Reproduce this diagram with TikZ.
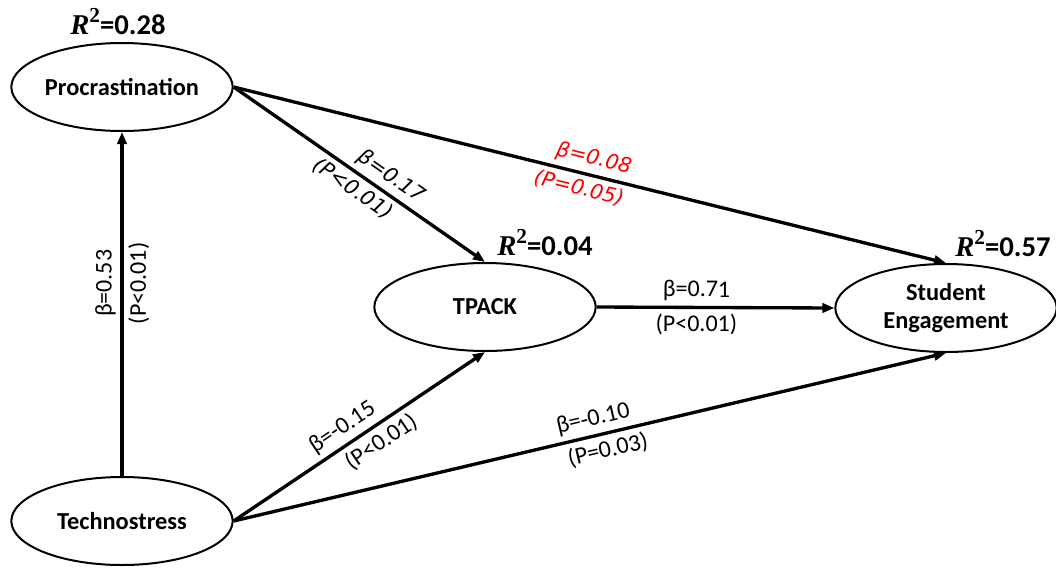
\documentclass[tikz,border=0pt]{standalone}
\usepackage{fontspec}
\setmainfont{Carlito}
\newfontfamily\verd{DejaVu Sans}
\newfontfamily\cambria{Liberation Serif}
\usetikzlibrary{positioning,arrows.meta,shapes.geometric}
\definecolor{rojo}{HTML}{FF0000}

\newcommand{\rsq}[1]{{\cambria\bfseries\itshape R}\raisebox{0.42em}{\fontsize{16}{16}\selectfont\cambria\bfseries 2}=#1}

\begin{document}
\begin{tikzpicture}[x=0.75pt, y=-0.75pt,
      lv/.style={draw, ellipse, line width=1.5pt, minimum width=166pt, minimum height=66pt,
                 inner sep=0pt, align=center, font=\fontsize{18.3}{21}\selectfont\bfseries},
      f/.style={-{Triangle[length=9pt,width=7pt]}, line width=2.5pt},
      cf/.style={font=\fontsize{18}{20}\selectfont, sloped, inner sep=3.5pt},
      ci/.style={font=\fontsize{15.5}{17}\selectfont\verd\itshape, sloped, inner sep=3.5pt},
      r2/.style={font=\fontsize{21.5}{23}\selectfont\bfseries}]

    \useasboundingbox (0,0) rectangle (1056,569);

    % --- Constructos ---------------------------------------------------
    \node[lv] (proc)  at (122,87)  {Procrastination};
    \node[lv] (tpack) at (485,307) {TPACK};
    \node[lv] (eng)   at (946,308) {Student\\Engagement};
    \node[lv] (tech)  at (122,521) {Technostress};

    \node[r2] (rproc)  at (118,22)  {\rsq{0.28}};
    \node[r2] (rtpack) at (545,243) {\rsq{0.04}};
    \node[r2] (reng)   at (1003,244) {\rsq{0.57}};

    % --- Caminos -------------------------------------------------------
    \draw[f] (tech.north) -- node[cf, above, pos=0.56] {β=0.53}
                                   node[cf, below, pos=0.56] {(P<0.01)} (proc.south);
    \draw[f] (proc.east) -- node[ci, above, pos=0.59] {β=0.17}
                                 node[ci, below, pos=0.51] {(P<0.01)} (tpack.north);
    \draw[f] (proc.east) -- node[ci, above, pos=0.50, text=rojo] {β=0.08}
                                 node[ci, below, pos=0.49, text=rojo] {(P=0.05)} (eng.north);
    \draw[f] (tpack.east) -- node[cf, above, pos=0.42] {β=0.71}
                                  node[cf, below, pos=0.42] {(P<0.01)} (eng.west);
    \draw[f] (tech.east) -- node[cf, above, pos=0.47] {β=-0.15}
                                 node[cf, below, pos=0.55] {(P<0.01)} (tpack.south);
    \draw[f] (tech.east) -- node[cf, above, pos=0.51] {β=-0.10}
                                 node[cf, below, pos=0.52] {(P=0.03)} (eng.south);
  \end{tikzpicture}
\end{document}
